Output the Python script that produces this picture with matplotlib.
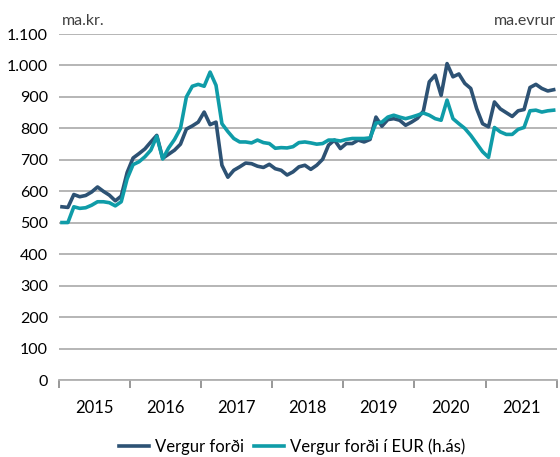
import matplotlib
matplotlib.use('Agg')
import matplotlib.pyplot as plt
import numpy as np

plt.rcParams['font.family'] = ['Lato', 'DejaVu Sans']

# Monthly values, Jan 2015 - Dec 2021
years = ['2015', '2016', '2017', '2018', '2019', '2020', '2021']
vergur_fordi = [
    551, 549, 590, 583, 587, 598, 614, 600, 588, 570, 585, 660,
    706, 720, 735, 757, 778, 705, 718, 731, 750, 798, 808, 820,
    852, 812, 820, 683, 645, 667, 678, 690, 688, 680, 676, 686,
    672, 667, 652, 662, 678, 683, 670, 683, 702, 747, 763, 736,
    752, 752, 763, 757, 765, 836, 807, 828, 831, 826, 810, 820,
    832, 855, 948, 969, 905, 1006, 964, 973, 943, 927, 863, 815,
    805, 884, 862, 850, 838, 856, 860, 930, 940, 927, 919, 923,
]
vergur_fordi_eur = [
    501, 501, 551, 546, 548, 556, 567, 567, 564, 554, 567, 640,
    685, 694, 710, 731, 775, 703, 738, 765, 800, 900, 934, 940,
    934, 979, 937, 815, 790, 768, 757, 757, 754, 763, 755, 752,
    737, 739, 738, 742, 755, 757, 754, 750, 752, 763, 763, 760,
    765, 768, 768, 768, 770, 817, 820, 836, 842, 836, 831, 836,
    842, 849, 842, 831, 826, 890, 831, 815, 800, 778, 752, 726,
    708, 803, 789, 781, 781, 797, 803, 856, 858, 852, 856, 858,
]

dark = '#2d5274'
teal = '#0f9ca8'
grid_col = '#b0b0b0'

fig = plt.figure(figsize=(5.6, 4.57), dpi=100)
ax = fig.add_axes([0.1054, 0.168, 0.8886, 0.7576])

# months plotted in the middle of each category slot
x = (np.arange(len(vergur_fordi)) + 0.5) / 12.0
ax.plot(x, vergur_fordi, color=dark, lw=2.6, label='Vergur forði', zorder=3)
ax.plot(x, vergur_fordi_eur, color=teal, lw=2.6, label='Vergur forði í EUR (h.ás)', zorder=3)

ax.set_xlim(0, len(years))
ax.set_ylim(0, 1100)

yt = np.arange(0, 1101, 100)
ax.set_yticks(yt)
ax.set_yticklabels([f'{v:,}'.replace(',', '.') for v in yt], fontsize=11.5)
ax.grid(axis='y', color=grid_col, lw=1.3)
ax.set_axisbelow(True)

ax.set_xticks(np.arange(len(years) + 1))
ax.set_xticklabels([])
ax.set_xticks(np.arange(len(years)) + 0.5, minor=True)
ax.set_xticklabels(years, minor=True, fontsize=12)
ax.tick_params(axis='x', which='major', length=6, width=1.3, color='#909090')
ax.tick_params(axis='x', which='minor', length=0, pad=14)
ax.tick_params(axis='y', length=0, pad=8)

for s in ['top', 'right', 'left']:
    ax.spines[s].set_visible(False)
ax.spines['bottom'].set_color(grid_col)
ax.spines['bottom'].set_linewidth(1.3)

fig.text(0.11, 0.955, 'ma.kr.', fontsize=11.5, ha='left', va='center', color='#404040')
fig.text(0.993, 0.955, 'ma.evrur', fontsize=11.5, ha='right', va='center', color='#404040')

ax.legend(loc='center', bbox_to_anchor=(0.469, -0.193), ncol=2, frameon=False,
          fontsize=12, handlelength=1.8, columnspacing=0.6, handletextpad=0.35)

fig.savefig('out.png', dpi=100)
